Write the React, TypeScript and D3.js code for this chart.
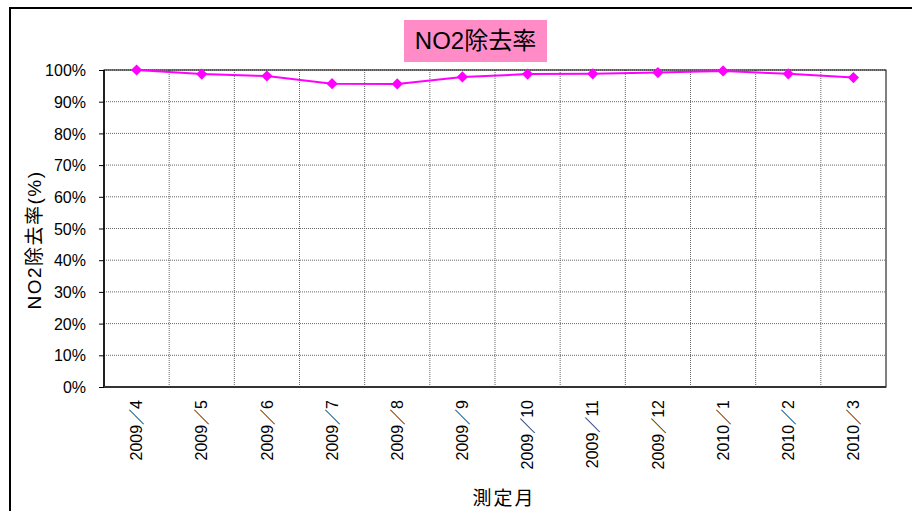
import { useEffect, useRef } from "react";
import * as d3 from "d3";

const months = [
  "2009/4", "2009/5", "2009/6", "2009/7", "2009/8", "2009/9",
  "2009/10", "2009/11", "2009/12", "2010/1", "2010/2", "2010/3",
];
const removalRate = [100, 98.7, 98.1, 95.7, 95.6, 97.8, 98.7, 98.8, 99.2, 99.7, 98.8, 97.6];
const yTicks = [0, 10, 20, 30, 40, 50, 60, 70, 80, 90, 100];

const FONT = "'Liberation Sans', 'Noto Sans CJK JP', sans-serif";

const App: React.FC = () => {
  const svgRef = useRef<SVGSVGElement>(null);

  useEffect(() => {
    const svg = d3.select(svgRef.current);
    svg.selectAll("*").remove();

    const left = 104, right = 886, top = 70, bottom = 387;

    // outer frame
    svg.append("rect")
      .attr("x", 10).attr("y", 8)
      .attr("width", 920).attr("height", 520)
      .attr("fill", "white")
      .attr("stroke", "#000").attr("stroke-width", 2);

    const x = d3.scaleBand<string>().domain(months).range([left, right]);
    const y = d3.scaleLinear().domain([0, 100]).range([bottom, top]);

    // grid
    const grid = svg.append("g");
    grid.selectAll("line.h")
      .data(yTicks.slice(1))
      .enter().append("line")
      .attr("x1", left).attr("x2", right)
      .attr("y1", (d) => y(d)).attr("y2", (d) => y(d))
      .attr("stroke", "#666").attr("stroke-width", 1)
      .attr("stroke-dasharray", "1,1");
    grid.selectAll("line.v")
      .data(months.slice(1))
      .enter().append("line")
      .attr("x1", (d) => x(d)!).attr("x2", (d) => x(d)!)
      .attr("y1", top).attr("y2", bottom)
      .attr("stroke", "#666").attr("stroke-width", 1)
      .attr("stroke-dasharray", "1,1");

    // plot border
    svg.append("rect")
      .attr("x", left).attr("y", top)
      .attr("width", right - left).attr("height", bottom - top)
      .attr("fill", "none").attr("stroke", "#000").attr("stroke-width", 1);
    svg.append("line")
      .attr("x1", left).attr("x2", left).attr("y1", top).attr("y2", bottom)
      .attr("stroke", "#000").attr("stroke-width", 1.5);
    svg.append("line")
      .attr("x1", left).attr("x2", right).attr("y1", bottom).attr("y2", bottom)
      .attr("stroke", "#333").attr("stroke-width", 2);

    // y axis
    const yAxis = svg.append("g")
      .attr("transform", `translate(${left},0)`)
      .call(d3.axisLeft(y).tickValues(yTicks).tickSize(5).tickFormat((d) => `${d}%`));
    yAxis.select(".domain").remove();
    yAxis.selectAll("text")
      .attr("font-family", FONT).attr("font-size", 16).attr("fill", "#000")
      .attr("x", -18).attr("dy", "0.35em");
    yAxis.selectAll("line").attr("stroke", "#000");

    // x axis (slash drawn full-width as in the original)
    const xAxis = svg.append("g")
      .attr("transform", `translate(0,${bottom})`)
      .call(d3.axisBottom(x).tickSize(0).tickFormat((d) => d.replace("/", "／")));
    xAxis.select(".domain").remove();
    xAxis.selectAll("text")
      .attr("font-family", FONT).attr("font-size", 16).attr("fill", "#000")
      .attr("transform", "rotate(-90)")
      .attr("text-anchor", "end")
      .attr("x", -13).attr("y", 0).attr("dy", "0.35em");

    // line
    const cx = (d: string) => x(d)! + x.bandwidth() / 2;
    const line = d3.line<number>()
      .x((_, i) => cx(months[i]))
      .y((d) => y(d));
    svg.append("path")
      .datum(removalRate)
      .attr("d", line)
      .attr("fill", "none")
      .attr("stroke", "#ff00ff").attr("stroke-width", 2);

    const diamond = d3.symbol().type(d3.symbolDiamond2).size(80);
    svg.selectAll("path.marker")
      .data(removalRate)
      .enter().append("path")
      .attr("d", diamond)
      .attr("transform", (d, i) => `translate(${cx(months[i])},${y(d)})`)
      .attr("fill", "#ff00ff");

    // title
    svg.append("rect")
      .attr("x", 404).attr("y", 20).attr("width", 143).attr("height", 42)
      .attr("fill", "#ff8cc6");
    svg.append("text")
      .attr("x", 475.5).attr("y", 49)
      .attr("text-anchor", "middle")
      .attr("font-family", FONT).attr("font-size", 24)
      .text("NO2除去率");

    // axis titles
    svg.append("text")
      .attr("x", 504).attr("y", 505)
      .attr("text-anchor", "middle")
      .attr("font-family", FONT).attr("font-size", 19)
      .attr("letter-spacing", 2)
      .text("測定月");
    svg.append("text")
      .attr("transform", `translate(41,240) rotate(-90)`)
      .attr("text-anchor", "middle")
      .attr("font-family", FONT).attr("font-size", 19)
      .attr("letter-spacing", 1.5)
      .text("NO2除去率(%)");
  }, []);

  return (
    <svg
      ref={svgRef}
      width={912}
      height={511}
      style={{ position: "absolute", left: 0, top: 0, background: "white" }}
    ></svg>
  );
};

export default App;
